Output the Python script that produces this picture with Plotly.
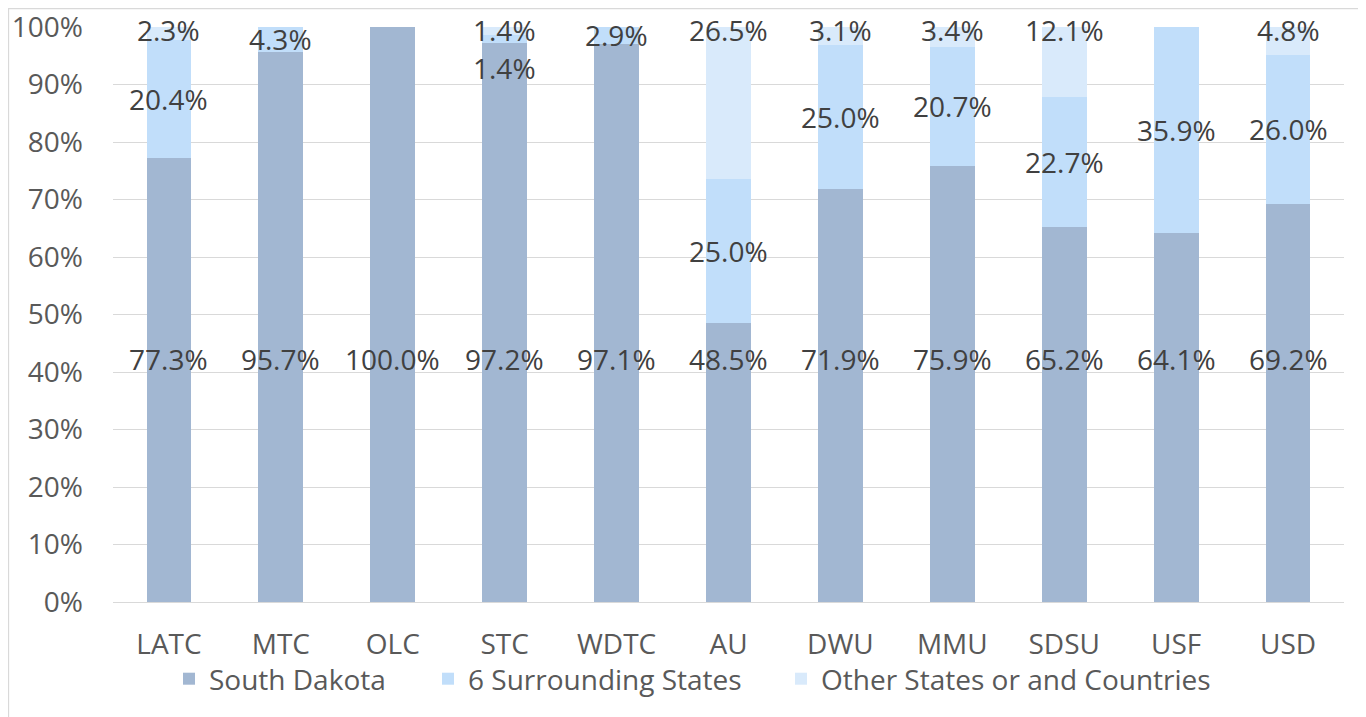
import plotly.graph_objects as go

categories = ["LATC", "MTC", "OLC", "STC", "WDTC", "AU", "DWU", "MMU", "SDSU", "USF", "USD"]
south_dakota = [77.3, 95.7, 100.0, 97.2, 97.1, 48.5, 71.9, 75.9, 65.2, 64.1, 69.2]
surrounding = [20.4, 4.3, 0.0, 1.4, 2.9, 25.0, 25.0, 20.7, 22.7, 35.9, 26.0]
other = [2.3, 0.0, 0.0, 1.4, 0.0, 26.5, 3.1, 3.4, 12.1, 0.0, 4.8]
series_names = ["South Dakota", "6 Surrounding States", "Other States or and Countries"]
y_ticks = [0, 10, 20, 30, 40, 50, 60, 70, 80, 90, 100]
y_tick_text = [f"{v}%" for v in y_ticks]

colors = ["#A2B7D2", "#C1DEFA", "#D9EAFB"]
legend_widths = [214, 308, 390]
OFF = 8  # page body offset
W, H = 1366 - OFF, 717 - OFF
ML, MR, MT, MB = 113 - OFF, 22, 27 - OFF, 115
FONT = "Open Sans"
FS = 28
LABEL_COLOR = "#404040"
TICK_COLOR = "#595959"

fig = go.Figure()
for name, vals, col, lw in zip(series_names, [south_dakota, surrounding, other], colors, legend_widths):
    fig.add_trace(go.Bar(x=categories, y=vals, name=name, marker=dict(color=col, line=dict(width=0)),
                         legendwidth=lw, hoverinfo="x+y+name"))

ann = []
SD_LABEL_Y = 42.3
TOP_LABEL_Y = 99.4
for c, a, b, o in zip(categories, south_dakota, surrounding, other):
    if a > 0:
        ann.append(dict(x=c, y=SD_LABEL_Y, text=f"{a:.1f}%"))
    if b > 0:
        yb = a + b / 2
        if o > 0 and abs(yb - TOP_LABEL_Y) < 5:
            yb = TOP_LABEL_Y - 6.6
        ann.append(dict(x=c, y=yb, text=f"{b:.1f}%"))
    if o > 0:
        ann.append(dict(x=c, y=TOP_LABEL_Y, text=f"{o:.1f}%"))
for d in ann:
    d.update(xref="x", yref="y", showarrow=False, xanchor="center", yanchor="middle",
             font=dict(family=FONT, size=FS, color=LABEL_COLOR))

pw = W - ML - MR
ph = H - MT - MB
def px_x(p):
    return (p - OFF - ML) / pw
def px_y(p):
    return 1 - (p - OFF - MT) / ph

shapes = [dict(type="rect", xref="paper", yref="paper",
               x0=px_x(8.5), x1=px_x(1361.5), y0=px_y(730), y1=px_y(8.7),
               line=dict(color="#D9D9D9", width=1.3), fillcolor="rgba(0,0,0,0)", layer="below")]

fig.update_layout(
    width=W, height=H,
    margin=dict(l=ML, r=MR, t=MT, b=MB, pad=0, autoexpand=False),
    barmode="stack",
    bargap=0.6,
    plot_bgcolor="white",
    paper_bgcolor="white",
    font=dict(family=FONT, size=FS, color=TICK_COLOR),
    annotations=ann,
    shapes=shapes,
    showlegend=True,
    legend=dict(orientation="h", xref="container", yref="container", x=161 / W, xanchor="left",
                y=1 - 671 / H, yanchor="middle", font=dict(family=FONT, size=FS, color=TICK_COLOR),
                traceorder="normal", itemclick=False, bgcolor="rgba(0,0,0,0)"),
    xaxis=dict(type="category", showgrid=False, showline=False, zeroline=False, ticks="",
               automargin=False, ticklabelstandoff=23, ticklabeloverflow="allow",
               tickfont=dict(family=FONT, size=FS, color=TICK_COLOR)),
    yaxis=dict(range=[0, 100], tickvals=y_ticks, ticktext=y_tick_text, showgrid=True,
               gridcolor="#D9D9D9", gridwidth=1.3, zeroline=True, zerolinecolor="#D9D9D9",
               zerolinewidth=1.3, showline=False, ticks="", automargin=False, ticklabelstandoff=29,
               ticklabeloverflow="allow",
               tickfont=dict(family=FONT, size=FS, color=TICK_COLOR)),
)

fig.write_html("out.html")
